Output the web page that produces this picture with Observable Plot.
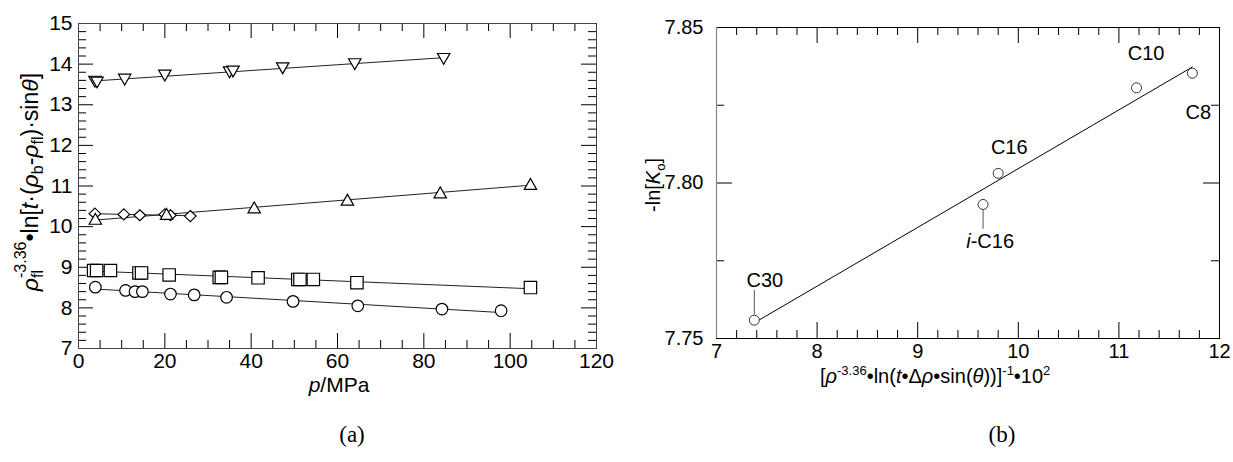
<!DOCTYPE html>
<html><head><meta charset="utf-8">
<script src="https://cdn.jsdelivr.net/npm/d3@7"></script>
<script src="https://cdn.jsdelivr.net/npm/@observablehq/plot@0.6"></script>
<style>
body{margin:0;background:#fff;}
#wrap{position:relative;width:1233px;height:462px;overflow:hidden;background:#fff;font-family:"Liberation Sans",Arial,sans-serif;}
#wrap svg{position:absolute;top:0;}
.cap{position:absolute;top:423px;font-family:"Liberation Serif","Times New Roman",serif;font-size:23px;line-height:1;transform:translateX(-50%);}
</style></head><body>
<div id="wrap"></div>
<script>
// ---------- Panel (a) data ----------
const circleP   = [3.9, 10.9, 13.1, 14.8, 21.3, 26.8, 34.3, 49.7, 64.7, 84.2, 97.9];
const circleV   = [8.51, 8.43, 8.40, 8.40, 8.34, 8.32, 8.26, 8.16, 8.05, 7.97, 7.93];
const squareP   = [3.5, 4.2, 7.4, 14.0, 14.6, 21.0, 32.6, 33.1, 41.6, 50.8, 51.3, 54.4, 64.5, 104.7];
const squareV   = [8.92, 8.92, 8.92, 8.86, 8.86, 8.81, 8.75, 8.75, 8.74, 8.70, 8.70, 8.70, 8.62, 8.50];
const diamondP  = [3.8, 10.5, 14.2, 20.0, 21.3, 25.9];
const diamondV  = [10.32, 10.30, 10.28, 10.30, 10.28, 10.26];
const triUpP    = [3.9, 20.4, 40.7, 62.3, 83.8, 104.7];
const triUpV    = [10.18, 10.30, 10.46, 10.65, 10.83, 11.04];
const triDownP  = [3.8, 4.3, 10.7, 20.0, 35.0, 35.8, 47.3, 64.0, 84.6];
const triDownV  = [13.58, 13.56, 13.63, 13.73, 13.81, 13.83, 13.91, 14.01, 14.14];
const xTicksA   = [0, 20, 40, 60, 80, 100, 120];
const yTicksA   = [7, 8, 9, 10, 11, 12, 13, 14, 15];

// ---------- Panel (b) data ----------
const compounds = ["C30", "i-C16", "C16", "C10", "C8"];
const invX      = [7.376, 9.65, 9.80, 11.175, 11.73];
const lnK       = [7.7559, 7.7931, 7.8031, 7.8306, 7.8353];
const labelX    = [7.48, 9.72, 9.91, 11.27, 11.79];
const labelY    = [7.7686, 7.7811, 7.8114, 7.8415, 7.8227];
const leaderX   = [7.376, 9.65];
const leaderY1  = [7.7576, 7.7851];
const leaderY2  = [7.7654, 7.7914];
const xTicksB   = [7, 8, 9, 10, 11, 12];
const yTicksB   = [7.75, 7.80, 7.85];

// ---------- helpers ----------
const FONT = "Liberation Sans, Arial, sans-serif";
const sym = (pts) => ({draw(ctx, size){
  const r = Math.sqrt(size / Math.PI);
  ctx.moveTo(pts[0][0]*r, pts[0][1]*r);
  for (let i = 1; i < pts.length; i++) ctx.lineTo(pts[i][0]*r, pts[i][1]*r);
  ctx.closePath();
}});
const downTri  = sym([[-1,-0.8],[1,-0.8],[0,0.95]]);
const upTri    = sym([[-1,0.8],[1,0.8],[0,-0.95]]);
const squareS  = sym([[-1,-1],[1,-1],[1,1],[-1,1]]);
const diamondS = sym([[0,-0.95],[1,0],[0,0.95],[-1,0]]);

function rows(name, P, V){ return P.map((p, i) => ({series: name, p, v: V[i]})); }
const rowsA = [
  ...rows("circle", circleP, circleV),
  ...rows("square", squareP, squareV),
  ...rows("diamond", diamondP, diamondV),
  ...rows("up", triUpP, triUpV),
  ...rows("down", triDownP, triDownV)
];
const rowsB = compounds.map((c, i) => ({c, x: invX[i], y: lnK[i], lx: labelX[i], ly: labelY[i]}));
const leaders = leaderX.map((x, i) => ({x, y1: leaderY1[i], y2: leaderY2[i]}));

function tickMarks(xMaj, xMin, yMaj, yMin, iw, ih, L, l){
  const m = [];
  const add = (vals, len, isX) => {
    if (isX) {
      m.push(Plot.ruleX(vals, {x: d => d, insetTop: ih - len, stroke: "black", strokeWidth: 1}));
      m.push(Plot.ruleX(vals, {x: d => d, insetBottom: ih - len, stroke: "black", strokeWidth: 1}));
    } else {
      m.push(Plot.ruleY(vals, {y: d => d, insetRight: iw - len, stroke: "black", strokeWidth: 1}));
      m.push(Plot.ruleY(vals, {y: d => d, insetLeft: iw - len, stroke: "black", strokeWidth: 1}));
    }
  };
  add(xMaj, L, true); add(xMin, l, true); add(yMaj, L, false); add(yMin, l, false);
  return m;
}

function rich(sel, parts){
  for (const p of parts) {
    const s = sel.append("tspan").text(p.t);
    if (p.i) s.attr("font-style", "italic");
    if (p.fs) s.attr("font-size", p.fs);
    if (p.dx) s.attr("dx", p.dx);
    if (p.dy) s.attr("dy", p.dy);
  }
}

const wrap = d3.select("#wrap");

// ---------- Panel (a) ----------
const HA = 400, WA = 620;
const mA = {l: 78, r: 24, t: 23, b: 52};
const iwA = WA - mA.l - mA.r, ihA = HA - mA.t - mA.b;
const xMinA = d3.range(0, 121, 5).filter(d => d % 20 !== 0);
const yMinA = d3.range(7, 15.001, 0.2).map(d => +d.toFixed(1)).filter(d => Math.abs(d - Math.round(d)) > 1e-6);

const plotA = Plot.plot({
  width: WA, height: HA,
  marginLeft: mA.l, marginRight: mA.r, marginTop: mA.t, marginBottom: mA.b,
  x: {domain: [0, 120]},
  y: {domain: [7, 15]},
  style: {fontFamily: FONT, fontSize: "21px", color: "black", background: "white", overflow: "visible"},
  marks: [
    ...tickMarks(xTicksA, xMinA, yTicksA, yMinA, iwA, ihA, 15, 8),
    Plot.axisX(xTicksA, {anchor: "bottom", tickSize: 0, tickPadding: 5, fontSize: 21, label: null}),
    Plot.axisY(yTicksA, {anchor: "left", tickSize: 0, tickPadding: 6, fontSize: 21, label: null}),
    Plot.linearRegressionY(rowsA, {x: "p", y: "v", z: "series", ci: 0, stroke: "#222", strokeWidth: 1}),
    Plot.dot(rowsA.filter(d => d.series === "circle"), {x: "p", y: "v", r: 5.8, symbol: "circle", stroke: "black", fill: "white", strokeWidth: 1.2}),
    Plot.dot(rowsA.filter(d => d.series === "square"), {x: "p", y: "v", r: 6.2, symbol: squareS, stroke: "black", fill: "white", strokeWidth: 1.2}),
    Plot.dot(rowsA.filter(d => d.series === "diamond"), {x: "p", y: "v", r: 5.8, symbol: diamondS, stroke: "black", fill: "white", strokeWidth: 1.2}),
    Plot.dot(rowsA.filter(d => d.series === "up"), {x: "p", y: "v", r: 6.2, symbol: upTri, stroke: "black", fill: "white", strokeWidth: 1.2}),
    Plot.dot(rowsA.filter(d => d.series === "down"), {x: "p", y: "v", r: 6.2, symbol: downTri, stroke: "black", fill: "white", strokeWidth: 1.2}),
    Plot.frame({stroke: "#444", strokeWidth: 1})
  ]
});
d3.select(plotA).style("left", "0px");
{
  const s = d3.select(plotA);
  const xt = s.append("text").attr("x", 339).attr("y", 392).attr("text-anchor", "middle")
    .attr("font-size", 21).attr("font-family", FONT).attr("fill", "black");
  rich(xt, [{t: "p", i: true}, {t: "/MPa"}]);
  const yt = s.append("text").attr("transform", "translate(38,182) rotate(-90)").attr("text-anchor", "middle")
    .attr("font-size", 23).attr("font-family", FONT).attr("fill", "black");
  rich(yt, [
    {t: "ρ", i: true},
    {t: "fl", fs: 16, dy: 5},
    {t: "-3.36", fs: 16, dx: -8, dy: -17},
    {t: "•ln[", dy: 12},
    {t: "t", i: true},
    {t: "·("},
    {t: "ρ", i: true},
    {t: "b", fs: 16, dy: 5},
    {t: "-", dy: -5},
    {t: "ρ", i: true},
    {t: "fl", fs: 16, dy: 5},
    {t: ")·sin", dy: -5},
    {t: "θ", i: true},
    {t: "]"}
  ]);
}
wrap.node().appendChild(plotA);

// ---------- Panel (b) ----------
const HB = 400, WB = 613, OFF = 620;
const mB = {l: 96, r: 14, t: 27, b: 62};
const iwB = WB - mB.l - mB.r, ihB = HB - mB.t - mB.b;
const xMinB = d3.range(7, 12.001, 0.2).map(d => +d.toFixed(1)).filter(d => Math.abs(d - Math.round(d)) > 1e-6);
const yMinB = [7.775, 7.825];

const plotB = Plot.plot({
  width: WB, height: HB,
  marginLeft: mB.l, marginRight: mB.r, marginTop: mB.t, marginBottom: mB.b,
  x: {domain: [7, 12]},
  y: {domain: [7.75, 7.85]},
  style: {fontFamily: FONT, fontSize: "20px", color: "black", background: "white", overflow: "visible"},
  marks: [
    ...tickMarks(xTicksB, xMinB, yTicksB, yMinB, iwB, ihB, 16, 8),
    Plot.axisX(xTicksB, {anchor: "bottom", tickSize: 0, tickPadding: 5, fontSize: 20, label: null}),
    Plot.axisY(yTicksB, {anchor: "left", tickSize: 0, tickPadding: 13, fontSize: 20, label: null, tickFormat: d3.format(".2f")}),
    Plot.linearRegressionY(rowsB, {x: "x", y: "y", ci: 0, stroke: "black", strokeWidth: 1}),
    Plot.ruleX(leaders, {x: "x", y1: "y1", y2: "y2", stroke: "#555", strokeWidth: 1}),
    Plot.dot(rowsB, {x: "x", y: "y", r: 5, symbol: "circle", stroke: "#333", fill: "white", strokeWidth: 1}),
    Plot.text(rowsB, {x: "lx", y: "ly", text: "c", fontSize: 20, fill: "black"}),
    Plot.frame({stroke: "black", strokeWidth: 1}),
    Plot.ruleX([7], {stroke: "#888", strokeWidth: 1.2})
  ]
});
d3.select(plotB).style("left", OFF + "px");
{
  const s = d3.select(plotB);
  s.selectAll("text").each(function(){
    if (this.textContent === "i-C16") {
      const t = d3.select(this); t.text("");
      rich(t, [{t: "i", i: true}, {t: "-C16"}]);
    }
  });
  const xt = s.append("text").attr("x", 820 - OFF).attr("y", 383).attr("text-anchor", "start")
    .attr("font-size", 20).attr("font-family", FONT).attr("fill", "black");
  rich(xt, [
    {t: "["}, {t: "ρ", i: true},
    {t: "-3.36", fs: 13, dy: -8},
    {t: "•ln(", dy: 8}, {t: "t", i: true}, {t: "•Δ"}, {t: "ρ", i: true}, {t: "•sin("}, {t: "θ", i: true}, {t: "))]"},
    {t: "-1", fs: 13, dy: -8},
    {t: "•10", dy: 8},
    {t: "2", fs: 13, dy: -8}
  ]);
  const yt = s.append("text").attr("transform", `translate(${660 - OFF},185) rotate(-90)`).attr("text-anchor", "middle")
    .attr("font-size", 20).attr("font-family", FONT).attr("fill", "black");
  rich(yt, [{t: "-ln["}, {t: "K", i: true}, {t: "o", fs: 13, dy: 5}, {t: "]", dy: -5}]);
}
wrap.node().appendChild(plotB);

// ---------- captions ----------
wrap.append("div").attr("class", "cap").style("left", "352px").text("(a)");
wrap.append("div").attr("class", "cap").style("left", "1002px").text("(b)");
</script>
</body></html>
